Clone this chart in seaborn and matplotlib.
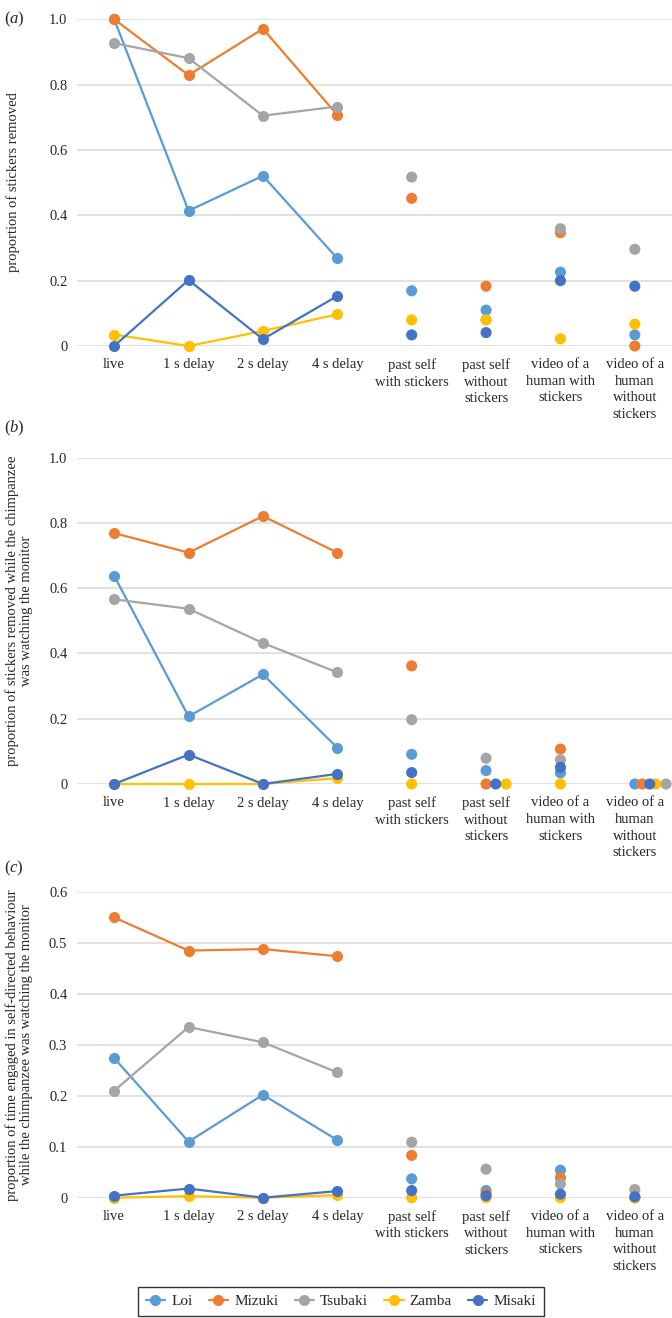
import pandas as pd
import seaborn as sns
import matplotlib.pyplot as plt
from matplotlib.lines import Line2D

# conditions (x categories) and tick labels
conditions = ['live', '1 s delay', '2 s delay', '4 s delay',
              'past self with stickers', 'past self without stickers',
              'video of a human with stickers', 'video of a human without stickers']
tick_labels = ['live', '1 s delay', '2 s delay', '4 s delay',
               'past self\nwith stickers', 'past self\nwithout\nstickers',
               'video of a\nhuman with\nstickers', 'video of a\nhuman\nwithout\nstickers']
delay_conditions = conditions[:4]

animals = ['Loi', 'Mizuki', 'Tsubaki', 'Zamba', 'Misaki']
colors = ['#5B9BD5', '#ED7D31', '#A5A5A5', '#FFC000', '#4472C4']

# (a) proportion of stickers removed
panel_a = {
    'Loi':     [1.0, 0.414, 0.521, 0.268, 0.169, 0.110, 0.226, 0.034],
    'Mizuki':  [1.0, 0.829, 0.971, 0.707, 0.452, 0.183, 0.347, 0.0],
    'Tsubaki': [0.927, 0.881, 0.705, 0.733, 0.517, 0.080, 0.359, 0.296],
    'Zamba':   [0.035, 0.0, 0.046, 0.097, 0.080, 0.080, 0.022, 0.067],
    'Misaki':  [0.0, 0.202, 0.021, 0.153, 0.034, 0.041, 0.200, 0.183],
}
# (b) proportion removed while watching the monitor
panel_b = {
    'Loi':     [0.638, 0.207, 0.336, 0.111, 0.091, 0.041, 0.034, 0.0],
    'Mizuki':  [0.769, 0.709, 0.821, 0.709, 0.362, 0.0, 0.107, 0.0],
    'Tsubaki': [0.566, 0.537, 0.432, 0.342, 0.197, 0.079, 0.074, 0.0],
    'Zamba':   [0.0, 0.0, 0.0, 0.018, 0.0, 0.0, 0.0, 0.0],
    'Misaki':  [0.0, 0.090, 0.0, 0.031, 0.035, 0.0, 0.051, 0.0],
}
# small sideways dodge of overlapping zeros in (b), in category units
dodge_b = {
    'Loi':     [0, 0, 0, 0, 0, 0, 0, 0],
    'Mizuki':  [0, 0, 0, 0, 0, 0, 0, 0.10],
    'Tsubaki': [0, 0, 0, 0, 0, 0, 0, 0.42],
    'Zamba':   [0, 0, 0, 0, 0, 0.27, 0, 0.28],
    'Misaki':  [0, 0, 0, 0, 0, 0.13, 0, 0.20],
}
# (c) proportion of time in self-directed behaviour
panel_c = {
    'Loi':     [0.274, 0.110, 0.202, 0.113, 0.037, 0.014, 0.054, 0.0],
    'Mizuki':  [0.550, 0.485, 0.488, 0.474, 0.083, 0.008, 0.039, 0.0],
    'Tsubaki': [0.210, 0.335, 0.305, 0.246, 0.109, 0.056, 0.027, 0.016],
    'Zamba':   [0.0, 0.003, 0.0, 0.005, 0.0, 0.0, 0.0, 0.0],
    'Misaki':  [0.004, 0.018, 0.0, 0.013, 0.014, 0.004, 0.007, 0.002],
}

sns.set_style('white')
plt.rcParams['font.family'] = ['Liberation Serif', 'DejaVu Serif']
plt.rcParams['mathtext.fontset'] = 'custom'
plt.rcParams['mathtext.rm'] = 'Liberation Serif'
plt.rcParams['mathtext.it'] = 'Liberation Serif:italic'

fig = plt.figure(figsize=(6.72, 13.18), dpi=100)
H = 1318.0
MS = 8


def to_long(panel, dodge=None):
    rows = []
    for a in animals:
        for i, c in enumerate(conditions):
            off = dodge[a][i] if dodge else 0
            rows.append({'animal': a, 'condition': c, 'pos': i + off, 'value': panel[a][i]})
    return pd.DataFrame(rows)


def draw(ax, panel, ymax, ystep, dodge=None):
    df = to_long(panel, dodge)
    lines = df[df['condition'].isin(delay_conditions)]
    others = df[~df['condition'].isin(delay_conditions)]
    sns.lineplot(data=lines, x='pos', y='value', hue='animal', hue_order=animals,
                 palette=colors, marker='o', markersize=MS, markeredgewidth=0,
                 linewidth=1.6, legend=False, clip_on=False, ax=ax, zorder=3)
    sns.scatterplot(data=others, x='pos', y='value', hue='animal', hue_order=animals,
                    palette=colors, s=MS ** 2, edgecolor='none', legend=False,
                    clip_on=False, ax=ax, zorder=3)
    ax.set_xlim(-0.5, 7.5)
    ax.set_ylim(0, ymax)
    ticks = [round(ystep * k, 2) for k in range(int(round(ymax / ystep)) + 1)]
    ax.set_yticks(ticks)
    ax.set_yticklabels(['0' if t == 0 else f'{t:.1f}' for t in ticks])
    ax.set_xticks(range(len(conditions)))
    ax.set_xticklabels(tick_labels, linespacing=1.35)
    ax.yaxis.grid(True, color='#D9D9D9', linewidth=1.1)
    ax.set_axisbelow(True)
    for s in ax.spines.values():
        s.set_visible(False)
    ax.tick_params(length=0, labelsize=10.5, labelcolor='#262626')
    ax.tick_params(axis='x', pad=9)
    ax.tick_params(axis='y', pad=7)
    ax.set_xlabel('')
    ax.set_ylabel('')


def add_axes(y_zero, y_top):
    left, right = 77 / 672, 1.0
    bottom = 1 - y_zero / H
    top = 1 - y_top / H
    return fig.add_axes([left, bottom, right - left, top - bottom])


ax_a = add_axes(346, 19.3)
draw(ax_a, panel_a, 1.0, 0.2)
ax_b = add_axes(784, 457.7)
draw(ax_b, panel_b, 1.0, 0.2, dodge_b)
ax_c = add_axes(1197.7, 892)
draw(ax_c, panel_c, 0.6, 0.1)

# panel letters
for lab, y in [('a', 19), ('b', 428), ('c', 868)]:
    fig.text(14 / 672, 1 - y / H, '($\\mathit{' + lab + '}$)', fontsize=12,
             ha='center', va='center', color='#262626')

# y labels
fig.text(13 / 672, 1 - 182.5 / H, 'proportion of stickers removed', rotation=90,
         ha='center', va='center', fontsize=10.5, color='#262626')
fig.text(19 / 672, 1 - 611 / H,
         'proportion of stickers removed while the chimpanzee\nwas watching the monitor',
         rotation=90, ha='center', va='center', fontsize=10.5, color='#262626',
         linespacing=1.1)
fig.text(19 / 672, 1 - 1045 / H,
         'proportion of time engaged in self-directed behaviour\nwhile the chimpanzee was watching the monitor',
         rotation=90, ha='center', va='center', fontsize=10.5, color='#262626',
         linespacing=1.1)

# legend
handles = [Line2D([0], [0], color=c, marker='o', markersize=MS, markeredgewidth=0,
                  linewidth=1.6) for c in colors]
leg = fig.legend(handles, animals, loc='center', bbox_to_anchor=(341 / 672, 1 - 1301.5 / H),
                 ncol=5, fontsize=11, frameon=True, fancybox=False, handlelength=1.25,
                 handletextpad=0.4, columnspacing=1.08, borderpad=0.5, borderaxespad=0)
leg.get_frame().set_edgecolor('black')
leg.get_frame().set_linewidth(1.0)

fig.savefig('out.png', dpi=100)
